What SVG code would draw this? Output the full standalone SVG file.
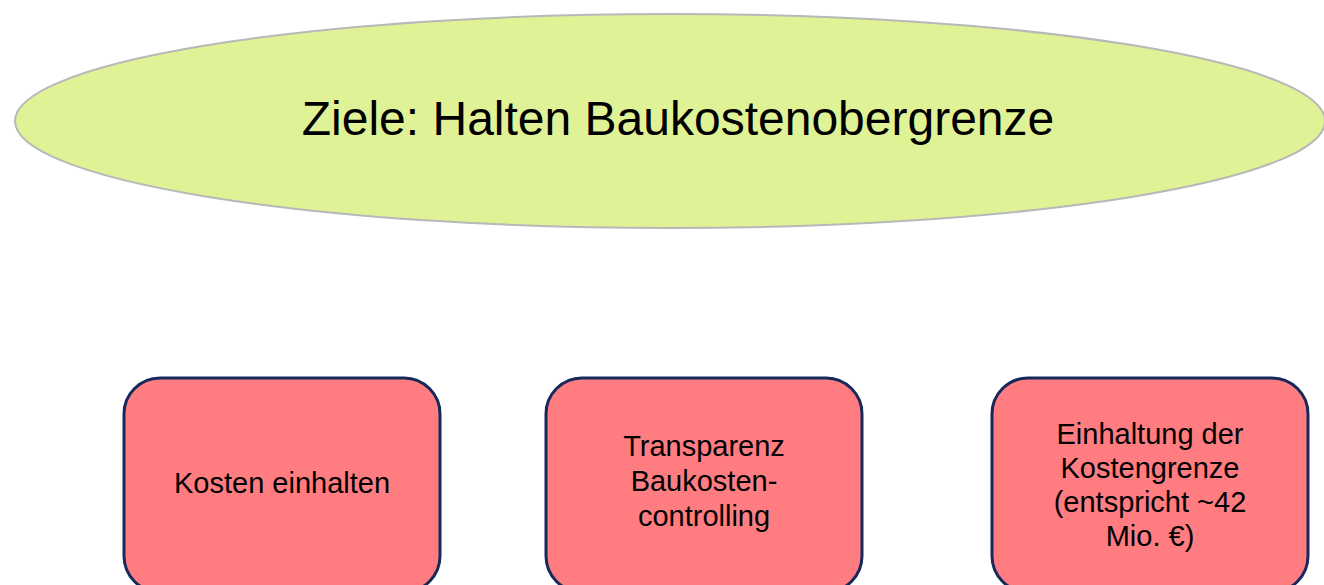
<svg xmlns="http://www.w3.org/2000/svg" width="1324" height="585" viewBox="0 0 1324 585">
<style>
.box{fill:#ff7c80;stroke:#17295a;stroke-width:3}
.t{font-family:"Liberation Sans",Arial,sans-serif;font-size:29px;fill:#000;text-anchor:middle}
.h{font-family:"Liberation Sans",Arial,sans-serif;font-size:48px;fill:#000;text-anchor:middle}
</style>
<rect width="1324" height="585" fill="#fff"/>
<g id="ziel">
<ellipse cx="670" cy="121" rx="655" ry="107" fill="#e0f296" stroke="#b8b8b8" stroke-width="2"/>
<text class="h" x="678" y="135">Ziele: Halten Baukostenobergrenze</text>
</g>
<g id="connectors"></g>
<g id="kosten">
<rect class="box" x="124" y="378" width="316" height="214" rx="36"/>
<text class="t" x="282" y="493">Kosten einhalten</text>
</g>
<g id="transparenz">
<rect class="box" x="546" y="378" width="316" height="214" rx="36"/>
<text class="t" x="704" y="456">Transparenz</text>
<text class="t" x="704" y="491">Baukosten-</text>
<text class="t" x="704" y="526">controlling</text>
</g>
<g id="einhaltung">
<rect class="box" x="992" y="378" width="316" height="214" rx="36"/>
<text class="t" x="1150" y="444">Einhaltung der</text>
<text class="t" x="1150" y="478">Kostengrenze</text>
<text class="t" x="1150" y="512">(entspricht ~42</text>
<text class="t" x="1150" y="546">Mio. €)</text>
</g>
</svg>
